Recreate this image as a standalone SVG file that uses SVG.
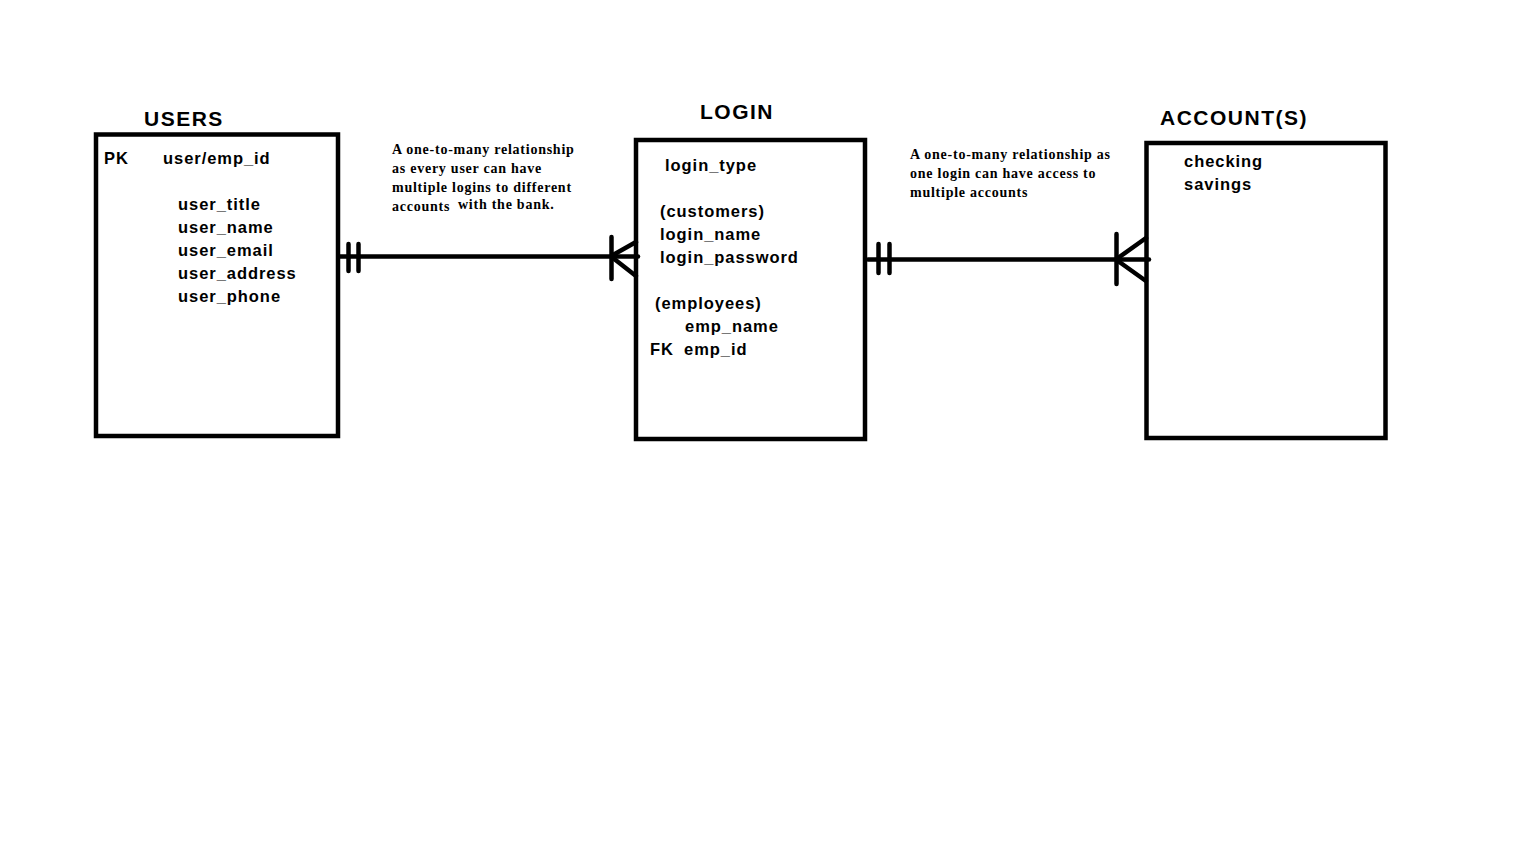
<svg xmlns="http://www.w3.org/2000/svg" width="1536" height="864" viewBox="0 0 1536 864">
<style>
.box{fill:none;stroke:#000;stroke-width:4.5}
.title{font-family:"Liberation Sans",Arial,sans-serif;font-weight:bold;font-size:21px;letter-spacing:1.5px;fill:#000}
.attr{font-family:"Liberation Sans",Arial,sans-serif;font-weight:bold;font-size:16.5px;letter-spacing:0.95px;fill:#000}
.note{font-family:"Liberation Serif","Times New Roman",serif;font-weight:bold;font-size:14px;letter-spacing:0.75px;fill:#000}
.ln{stroke:#000;stroke-width:4.5;fill:none;stroke-linecap:round}
</style>
<rect width="1536" height="864" fill="#fff"/>
<g id="users">
<text class="title" x="144" y="126">USERS</text>
<rect class="box" x="96" y="134.5" width="242" height="301.5"/>
<text class="attr" x="104" y="164">PK</text>
<text class="attr" x="163" y="164">user/emp_id</text>
<text class="attr" x="178" y="210">user_title</text>
<text class="attr" x="178" y="233">user_name</text>
<text class="attr" x="178" y="256">user_email</text>
<text class="attr" x="178" y="279">user_address</text>
<text class="attr" x="178" y="302">user_phone</text>
</g>
<g id="login">
<text class="title" x="700" y="119">LOGIN</text>
<rect class="box" x="636" y="140" width="229" height="299"/>
<text class="attr" x="665" y="171">login_type</text>
<text class="attr" x="660" y="217">(customers)</text>
<text class="attr" x="660" y="240">login_name</text>
<text class="attr" x="660" y="263">login_password</text>
<text class="attr" x="655" y="309">(employees)</text>
<text class="attr" x="685" y="332">emp_name</text>
<text class="attr" x="650" y="355">FK</text>
<text class="attr" x="684" y="355">emp_id</text>
</g>
<g id="accounts">
<text class="title" x="1160" y="125">ACCOUNT(S)</text>
<rect class="box" x="1146.5" y="143" width="239" height="295"/>
<text class="attr" x="1184" y="167">checking</text>
<text class="attr" x="1184" y="190">savings</text>
</g>
<g id="notes">
<text class="note" x="392" y="154">A one-to-many relationship</text>
<text class="note" x="392" y="173">as every user can have</text>
<text class="note" x="392" y="192">multiple logins to different</text>
<text class="note" x="392" y="211">accounts</text>
<text class="note" x="458" y="209">with the bank.</text>
<text class="note" x="910" y="159">A one-to-many relationship as</text>
<text class="note" x="910" y="178">one login can have access to</text>
<text class="note" x="910" y="197">multiple accounts</text>
</g>
<g id="connectors">
<line class="ln" x1="340" y1="256.5" x2="638" y2="256.5"/>
<line class="ln" x1="348.5" y1="244" x2="348.5" y2="271"/>
<line class="ln" x1="358.5" y1="244" x2="358.5" y2="271"/>
<line class="ln" x1="611.5" y1="237" x2="611.5" y2="279"/>
<line class="ln" x1="613" y1="255" x2="636" y2="242"/>
<line class="ln" x1="613" y1="258" x2="636" y2="276"/>
<line class="ln" x1="868" y1="259.5" x2="1149" y2="259.5"/>
<line class="ln" x1="878.5" y1="244" x2="878.5" y2="273"/>
<line class="ln" x1="889.5" y1="244" x2="889.5" y2="273"/>
<line class="ln" x1="1116.5" y1="234" x2="1116.5" y2="284"/>
<line class="ln" x1="1118" y1="258" x2="1146" y2="238"/>
<line class="ln" x1="1118" y1="261" x2="1146" y2="281"/>
</g>
</svg>
